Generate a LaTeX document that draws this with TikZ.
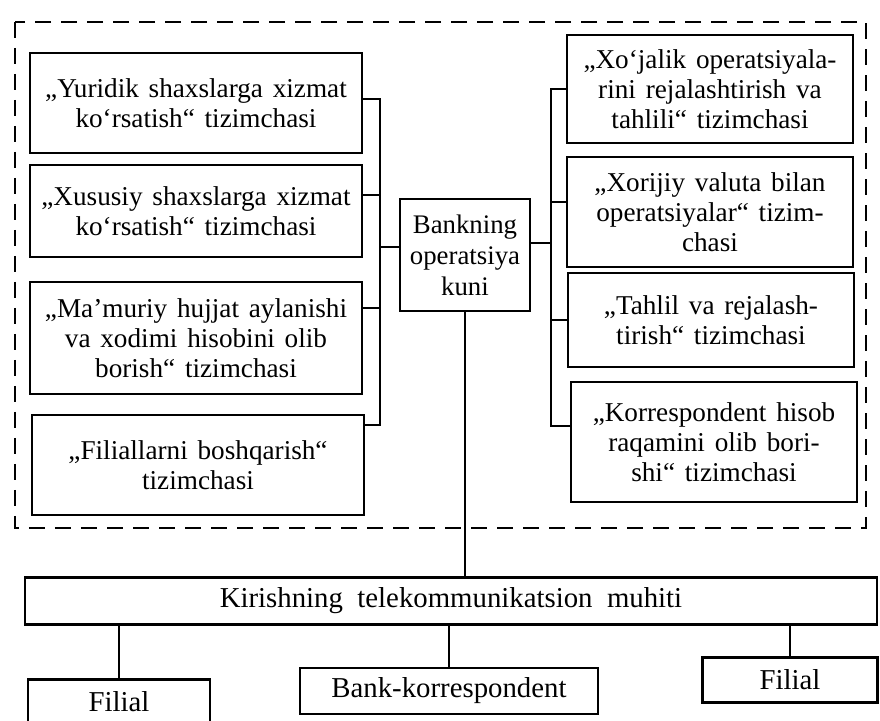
\documentclass[tikz,border=0pt]{standalone}
\usepackage{fontspec}
\setmainfont{Liberation Serif}
\newcommand\boxfont{\fontsize{13.6}{15}\selectfont\spaceskip 0.36em plus 0.1em\relax}
\newcommand\widefont{\fontsize{14.4}{15}\selectfont\spaceskip 0.5em plus 0.1em\relax}
\begin{document}
\begin{tikzpicture}[x=0.5pt, y=-0.5pt,
    box/.style={draw, line width=1.3pt, align=center, inner sep=0pt, font=\boxfont},
    lbox/.style={box, minimum width=166pt},
    rbox/.style={box, minimum width=143pt},
    wide/.style={box, font=\widefont},
    bus/.style={line width=1.3pt},
    frame/.style={line width=1.3pt, dash pattern=on 8pt off 5pt}]
        \useasboundingbox (0,0) rectangle (880,721);

        % Dashed frame
        \draw[frame] (15,22) rectangle (866,528);

        % Left subsystems
        \node (L1) at (196,103) [lbox, minimum height=50pt] {„Yuridik shaxslarga xizmat\\ko‘rsatish“ tizimchasi};
        \node (L2) at (196,211) [lbox, minimum height=46pt] {„Xususiy shaxslarga xizmat\\ko‘rsatish“ tizimchasi};
        \node (L3) at (196,338) [lbox, minimum height=56pt] {„Ma’muriy hujjat aylanishi\\va xodimi hisobini olib\\borish“ tizimchasi};
        \node (L4) at (198,465) [lbox, minimum height=50pt] {„Filiallarni boshqarish“\\tizimchasi};

        % Centre
        \node (C) at (465,255) [box, minimum width=65pt, minimum height=56pt,
          font=\fontsize{13.4}{15.5}\selectfont] {Bankning\\operatsiya\\kuni};

        % Right subsystems
        \node (R1) at (710,89) [rbox, minimum height=54pt] {„Xo‘jalik operatsiyala-\\rini rejalashtirish va\\tahlili“ tizimchasi};
        \node (R2) at (710,212) [rbox, minimum height=55pt] {„Xorijiy valuta bilan\\operatsiyalar“ tizim-\\chasi};
        \node (R3) at (711,320) [rbox, minimum height=47pt] {„Tahlil va rejalash-\\tirish“ tizimchasi};
        \node (R4) at (714,442) [rbox, minimum height=60pt] {„Korrespondent hisob\\raqamini olib bori-\\shi“ tizimchasi};

        % Buses
        \coordinate (lbus) at (380,0);
        \coordinate (rbus) at (551,0);
        \draw[bus] ([yshift=2pt]L1.east) -| ([yshift=20pt]L4.east -| lbus) -- ([yshift=20pt]L4.east);
        \draw[bus] ([yshift=8pt]L2.east) -- ([yshift=8pt]L2.east -| lbus);
        \draw[bus] ([yshift=15pt]L3.east) -- ([yshift=15pt]L3.east -| lbus);
        \draw[bus] ([yshift=4pt]C.west) -- ([yshift=4pt]C.west -| lbus);
        \draw[bus] (R1.west) -| ([yshift=8pt]R4.west -| rbus) -- ([yshift=8pt]R4.west);
        \draw[bus] ([yshift=5pt]R2.west) -- ([yshift=5pt]R2.west -| rbus);
        \draw[bus] (R3.west) -- (R3.west -| rbus);
        \draw[bus] ([yshift=6pt]C.east) -- ([yshift=6pt]C.east -| rbus);

        % Telecom environment
        \node (T) at (451,601) [wide, minimum width=426pt, minimum height=23.5pt] {Kirishning telekommunikatsion muhiti};
        \draw[bus] (C.south) -- (C.south |- T.north);

        % Branches
        \node (F1) at (119,702) [wide, minimum width=91pt, minimum height=22.5pt] {Filial};
        \node (BK) at (449,691) [wide, minimum width=149pt, minimum height=23pt] {Bank-korrespondent};
        \node (F2) at (790,680) [wide, minimum width=87.5pt, minimum height=22.5pt] {Filial};
        \draw[bus] (F1.north |- T.south) -- (F1.north);
        \draw[bus] (BK.north |- T.south) -- (BK.north);
        \draw[bus] (F2.north |- T.south) -- (F2.north);
    \end{tikzpicture}
\end{document}
